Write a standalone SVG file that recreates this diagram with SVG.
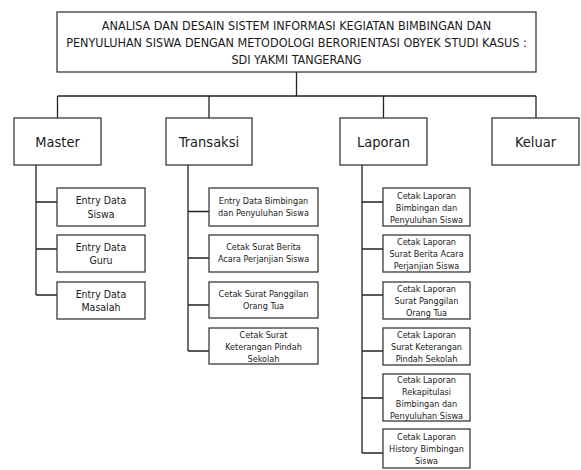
<svg xmlns="http://www.w3.org/2000/svg" width="581" height="470" viewBox="0 0 581 470">
  <style>
    .box { fill: #ffffff; stroke: #3a3a3a; stroke-width: 1.3; }
    .line { fill: none; stroke: #222222; stroke-width: 1.3; }
    text { font-family: "DejaVu Sans Condensed", "DejaVu Sans", "Liberation Sans", sans-serif; fill: #1a1a1a; text-anchor: middle; }
    .title { font-size: 12.5px; }
    .top { font-size: 14.5px; }
    .sub { font-size: 10.5px; }
    .small { font-size: 9px; }
  </style>

  <!-- connectors -->
  <g id="connectors" class="line">
    <path d="M296.5 72 V96 M57.5 96 H536 M57.5 96 V118 M209 96 V118 M383.5 96 V118 M536 96 V118"/>
    <!-- Master branch -->
    <path d="M36 165 V295 M36 202 H57 M36 249 H57 M36 295 H57"/>
    <!-- Transaksi branch -->
    <path d="M188 165 V351 M188 211.5 H209 M188 258 H209 M188 305 H209 M188 351 H209"/>
    <!-- Laporan branch -->
    <path d="M362 165 V453 M362 202 H383 M362 249 H383 M362 295 H383 M362 351 H383 M362 398 H383 M362 453 H383"/>
  </g>

  <!-- root -->
  <g id="root">
    <rect class="box" x="57" y="12" width="479" height="60"/>
    <text class="title" x="296.5" y="29.5">ANALISA DAN DESAIN SISTEM INFORMASI KEGIATAN BIMBINGAN DAN</text>
    <text class="title" x="296.5" y="47">PENYULUHAN SISWA DENGAN METODOLOGI BERORIENTASI OBYEK STUDI KASUS :</text>
    <text class="title" x="296.5" y="63.5">SDI YAKMI TANGERANG</text>
  </g>

  <!-- top-level menus -->
  <g id="master">
    <rect class="box" x="14" y="118" width="87" height="47"/>
    <text class="top" x="57.5" y="146.5">Master</text>
  </g>
  <g id="transaksi">
    <rect class="box" x="166" y="118" width="86" height="47"/>
    <text class="top" x="209" y="146.5">Transaksi</text>
  </g>
  <g id="laporan">
    <rect class="box" x="340" y="118" width="87" height="47"/>
    <text class="top" x="383.5" y="146.5">Laporan</text>
  </g>
  <g id="keluar">
    <rect class="box" x="492" y="118" width="87" height="47"/>
    <text class="top" x="535.5" y="146.5">Keluar</text>
  </g>

  <!-- Master items -->
  <g id="entry-siswa">
    <rect class="box" x="57" y="188" width="88" height="38"/>
    <text class="sub" x="101" y="204"><tspan x="101">Entry Data</tspan><tspan x="101" dy="13.5">Siswa</tspan></text>
  </g>
  <g id="entry-guru">
    <rect class="box" x="57" y="235" width="88" height="37"/>
    <text class="sub" x="101" y="250.5"><tspan x="101">Entry Data</tspan><tspan x="101" dy="13.5">Guru</tspan></text>
  </g>
  <g id="entry-masalah">
    <rect class="box" x="57" y="282" width="88" height="37"/>
    <text class="sub" x="101" y="297.5"><tspan x="101">Entry Data</tspan><tspan x="101" dy="13.5">Masalah</tspan></text>
  </g>

  <!-- Transaksi items -->
  <g id="entry-bimbingan">
    <rect class="box" x="209" y="188" width="109" height="38"/>
    <text class="small" x="263.5" y="203.5"><tspan x="263.5">Entry Data Bimbingan</tspan><tspan x="263.5" dy="12">dan Penyuluhan Siswa</tspan></text>
  </g>
  <g id="surat-berita-acara">
    <rect class="box" x="209" y="235" width="109" height="37"/>
    <text class="small" x="263.5" y="250"><tspan x="263.5">Cetak Surat Berita</tspan><tspan x="263.5" dy="12">Acara Perjanjian Siswa</tspan></text>
  </g>
  <g id="surat-panggilan">
    <rect class="box" x="209" y="282" width="109" height="36"/>
    <text class="small" x="263.5" y="296.5"><tspan x="263.5">Cetak Surat Panggilan</tspan><tspan x="263.5" dy="12">Orang Tua</tspan></text>
  </g>
  <g id="surat-pindah">
    <rect class="box" x="209" y="328" width="109" height="36"/>
    <text class="small" x="263.5" y="337.5"><tspan x="263.5">Cetak Surat</tspan><tspan x="263.5" dy="12">Keterangan Pindah</tspan><tspan x="263.5" dy="12">Sekolah</tspan></text>
  </g>

  <!-- Laporan items -->
  <g id="lap-bimbingan">
    <rect class="box" x="383" y="188" width="87" height="38"/>
    <text class="small" x="426.5" y="198.5"><tspan x="426.5">Cetak Laporan</tspan><tspan x="426.5" dy="12">Bimbingan dan</tspan><tspan x="426.5" dy="12">Penyuluhan Siswa</tspan></text>
  </g>
  <g id="lap-berita-acara">
    <rect class="box" x="383" y="235" width="87" height="37"/>
    <text class="small" x="426.5" y="245"><tspan x="426.5">Cetak Laporan</tspan><tspan x="426.5" dy="12">Surat Berita Acara</tspan><tspan x="426.5" dy="12">Perjanjian Siswa</tspan></text>
  </g>
  <g id="lap-panggilan">
    <rect class="box" x="383" y="282" width="87" height="37"/>
    <text class="small" x="426.5" y="292"><tspan x="426.5">Cetak Laporan</tspan><tspan x="426.5" dy="12">Surat Panggilan</tspan><tspan x="426.5" dy="12">Orang Tua</tspan></text>
  </g>
  <g id="lap-pindah">
    <rect class="box" x="383" y="328" width="87" height="37"/>
    <text class="small" x="426.5" y="338"><tspan x="426.5">Cetak Laporan</tspan><tspan x="426.5" dy="12">Surat Keterangan</tspan><tspan x="426.5" dy="12">Pindah Sekolah</tspan></text>
  </g>
  <g id="lap-rekapitulasi">
    <rect class="box" x="383" y="374" width="87" height="47"/>
    <text class="small" x="426.5" y="383"><tspan x="426.5">Cetak Laporan</tspan><tspan x="426.5" dy="12">Rekapitulasi</tspan><tspan x="426.5" dy="12">Bimbingan dan</tspan><tspan x="426.5" dy="12">Penyuluhan Siswa</tspan></text>
  </g>
  <g id="lap-history">
    <rect class="box" x="383" y="429" width="87" height="39"/>
    <text class="small" x="426.5" y="440"><tspan x="426.5">Cetak Laporan</tspan><tspan x="426.5" dy="12">History Bimbingan</tspan><tspan x="426.5" dy="12">Siswa</tspan></text>
  </g>
</svg>
